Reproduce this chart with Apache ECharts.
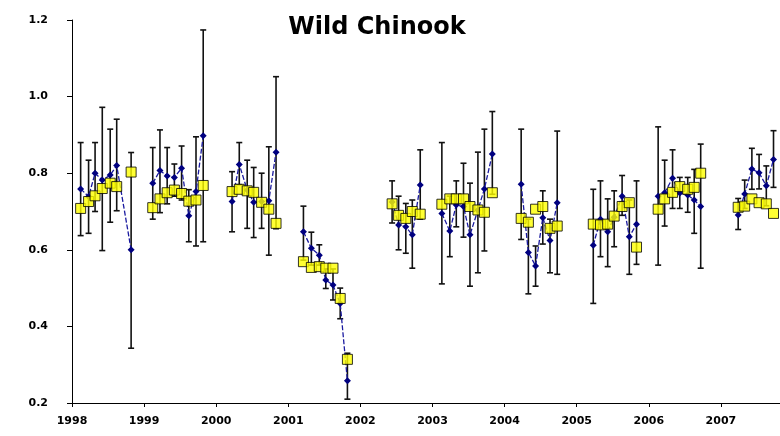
<!DOCTYPE html>
<html><head><meta charset="utf-8">
<script src="https://cdn.jsdelivr.net/npm/echarts@6/dist/echarts.min.js"></script>
<style>html,body{margin:0;padding:0;background:#fff}#c{width:780px;height:436px}</style>
</head><body><div id="c"></div>
<script>
const titleText = 'Wild Chinook';
const xTicks = [1998,1999,2000,2001,2002,2003,2004,2005,2006,2007];
const yTicks = [0.2,0.4,0.6,0.8,1.0,1.2];
// sample dates (decimal years)
const dates = [
 1998.12,1998.23,1998.32,1998.42,1998.53,1998.62,1998.82,
 1999.12,1999.22,1999.32,1999.42,1999.52,1999.62,1999.72,1999.82,
 2000.22,2000.32,2000.43,2000.52,2000.63,2000.73,2000.83,
 2001.21,2001.32,2001.43,2001.52,2001.62,2001.72,2001.82,
 2002.44,2002.53,2002.63,2002.72,2002.83,
 2003.13,2003.24,2003.33,2003.43,2003.52,2003.63,2003.72,2003.83,
 2004.23,2004.33,2004.43,2004.53,2004.63,2004.73,
 2005.23,2005.33,2005.43,2005.52,2005.63,2005.73,2005.83,
 2006.13,2006.22,2006.33,2006.43,2006.54,2006.63,2006.72,
 2007.24,2007.33,2007.43,2007.53,2007.63,2007.73
];
// blue diamonds (observed)
const observed = [
 0.759,0.739,0.800,0.782,0.795,0.820,0.600,
 0.774,0.807,0.793,0.789,0.813,0.689,0.752,0.898,
 0.726,0.823,0.756,0.724,0.726,0.728,0.855,
 0.647,0.604,0.586,0.521,0.508,0.460,0.258,
 0.725,0.665,0.660,0.639,0.769,
 0.695,0.649,0.717,0.713,0.639,0.704,0.759,0.850,
 0.771,0.593,0.558,0.684,0.624,0.723,
 0.612,0.680,0.647,0.685,0.740,0.634,0.667,
 0.740,0.749,0.787,0.748,0.743,0.730,0.713,
 0.691,0.746,0.811,0.801,0.767,0.836
];
const errLow = [
 0.637,0.643,0.700,0.598,0.672,0.702,0.343,
 0.680,0.697,0.720,0.740,0.730,0.621,0.610,0.621,
 0.647,0.770,0.656,0.632,0.656,0.586,0.655,
 0.573,0.560,0.560,0.499,0.469,0.420,0.210,
 0.670,0.600,0.591,0.552,0.680,
 0.511,0.582,0.660,0.633,0.505,0.540,0.597,0.745,
 0.627,0.485,0.505,0.615,0.540,0.536,
 0.460,0.582,0.556,0.608,0.690,0.536,0.562,
 0.560,0.662,0.708,0.708,0.698,0.643,0.552,
 0.653,0.708,0.758,0.759,0.715,0.763
];
const errHigh = [
 0.880,0.834,0.880,0.972,0.915,0.941,0.854,
 0.867,0.913,0.867,0.824,0.871,0.757,0.895,1.174,
 0.804,0.880,0.834,0.815,0.800,0.869,1.052,
 0.714,0.646,0.613,0.550,0.550,0.500,0.330,
 0.780,0.740,0.721,0.730,0.861,
 0.880,0.740,0.780,0.826,0.774,0.855,0.915,0.961,
 0.915,0.680,0.610,0.754,0.680,0.910,
 0.758,0.780,0.733,0.754,0.794,0.730,0.780,
 0.921,0.834,0.861,0.789,0.789,0.810,0.876,
 0.734,0.782,0.865,0.849,0.819,0.911
];
// yellow squares (model)
const modelled = [
 0.708,0.726,0.741,0.760,0.774,0.765,0.803,
 0.710,0.733,0.749,0.756,0.747,0.727,0.730,0.768,
 0.752,0.758,0.754,0.750,0.724,0.706,0.669,
 0.569,0.554,0.556,0.552,0.552,0.473,0.314,
 0.720,0.690,0.682,0.700,0.693,
 0.719,0.733,0.733,0.733,0.713,0.704,0.698,0.749,
 0.682,0.672,0.706,0.713,0.656,0.662,
 0.667,0.665,0.667,0.688,0.713,0.723,0.607,
 0.706,0.733,0.750,0.765,0.758,0.763,0.800,
 0.711,0.714,0.733,0.723,0.720,0.695
];

const chart = echarts.init(document.getElementById('c'), null, {renderer:'canvas'});
const labelFont = {fontFamily:'DejaVu Sans', fontWeight:'bold', fontSize:11, color:'#000'};

// split blue line per year so lines break between seasons
const years = [...new Set(dates.map(d => Math.floor(d)))];
const lineSeries = years.map(y => ({
  type:'line',
  data: dates.map((d,i)=>[d, observed[i]]).filter(p => Math.floor(p[0])===y),
  symbol:'diamond', symbolSize:7,
  itemStyle:{color:'#000080'},
  lineStyle:{color:'#1a1aa0', width:1.3, type:[5,2]},
  z:3, animation:false, silent:true
}));

const errSeries = {
  type:'custom',
  data: dates.map((d,i)=>[d, errLow[i], errHigh[i]]),
  encode:{x:0, y:[1,2]},
  renderItem: function(params, api){
    const lo = api.coord([api.value(0), api.value(1)]);
    const hi = api.coord([api.value(0), api.value(2)]);
    const w = 3;
    const st = {stroke:'#111', lineWidth:1.6};
    return {type:'group', children:[
      {type:'line', shape:{x1:hi[0],y1:hi[1],x2:lo[0],y2:lo[1]}, style:st},
      {type:'line', shape:{x1:hi[0]-w,y1:hi[1],x2:hi[0]+w,y2:hi[1]}, style:st},
      {type:'line', shape:{x1:lo[0]-w,y1:lo[1],x2:lo[0]+w,y2:lo[1]}, style:st}
    ]};
  },
  z:2, animation:false, silent:true
};

const modelSeries = {
  type:'scatter',
  data: dates.map((d,i)=>[d, modelled[i]]),
  symbol:'rect', symbolSize:10,
  itemStyle:{color:'#ffff00', borderColor:'#000', borderWidth:1},
  z:4, animation:false, silent:true
};

chart.setOption({
  animation:false,
  backgroundColor:'#fff',
  title:{text:titleText, left:372, top:11, textAlign:'center',
    textStyle:{fontFamily:'DejaVu Sans', fontWeight:'bold', fontSize:24, color:'#000'}},
  grid:{left:72, right:0, top:20, bottom:33, containLabel:false},
  xAxis:{type:'value', min:xTicks[0], max:2007.82, interval:1,
    axisLine:{show:true, lineStyle:{color:'#000', width:1}},
    axisTick:{show:true, length:4, lineStyle:{color:'#000'}},
    splitLine:{show:false},
    axisLabel:{...labelFont, margin:13, showMaxLabel:false,
      formatter: v => xTicks.includes(Math.round(v)) ? String(Math.round(v)) : ''}},
  yAxis:{type:'value', min:yTicks[0], max:yTicks[yTicks.length-1], interval:0.2,
    axisLine:{show:true, lineStyle:{color:'#000', width:1}},
    axisTick:{show:true, length:5, lineStyle:{color:'#000'}},
    splitLine:{show:false},
    axisLabel:{...labelFont, margin:24, formatter: v => v.toFixed(1)}},
  series:[errSeries, ...lineSeries, modelSeries]
});
</script></body></html>
